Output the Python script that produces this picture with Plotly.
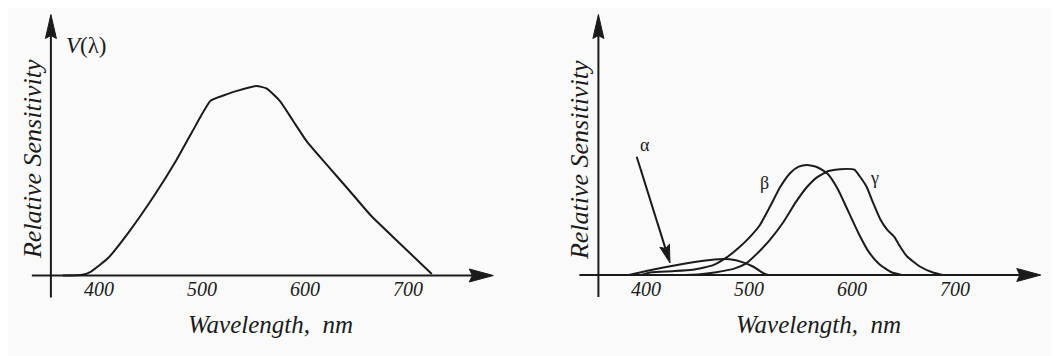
import math
import plotly.graph_objects as go

# ---------------- data ----------------
TICK_VALUES = [400, 500, 600, 700]
TICK_LABELS = ["400", "500", "600", "700"]

# Left panel: photopic luminosity function V(lambda)
V_WL = [365, 384, 392.5, 409, 428.6, 454.8, 474.4, 490.8, 508.7, 521, 533.3,
        553, 562.8, 575.9, 589, 602.1, 621.7, 643, 664.4, 693.8, 723.3]
V_VAL = [0.0, 0.004, 0.021, 0.092, 0.225, 0.43, 0.60, 0.76, 0.923, 0.95, 0.973,
         1.0, 0.987, 0.92, 0.813, 0.706, 0.582, 0.45, 0.315, 0.161, 0.008]

# Right panel: cone sensitivities
ALPHA_WL = [383, 395, 407, 426, 452, 470, 481, 494, 504, 514, 518]
ALPHA_VAL = [0.0, 0.025, 0.05, 0.085, 0.125, 0.143, 0.143, 0.115, 0.075, 0.015, 0.0]

BETA_WL = [395, 405, 425, 445, 465, 478, 490, 500, 510, 520, 530, 540, 548,
           556, 566, 576, 586, 596, 606, 616, 626, 638, 648]
BETA_VAL = [0.0, 0.025, 0.035, 0.048, 0.09, 0.16, 0.25, 0.34, 0.45, 0.62, 0.80,
            0.93, 0.985, 1.0, 0.98, 0.92, 0.78, 0.58, 0.38, 0.21, 0.10, 0.025, 0.0]

GAMMA_WL = [430, 450, 468, 486, 497, 507, 520, 533, 545, 556, 566, 577, 588,
            602, 607, 614, 620, 627, 634, 641, 645, 653, 666, 679, 688]
GAMMA_VAL = [0.0, 0.005, 0.025, 0.06, 0.105, 0.19, 0.32, 0.48, 0.66, 0.80, 0.89,
             0.945, 0.962, 0.958, 0.90, 0.80, 0.66, 0.51, 0.41, 0.345, 0.28,
             0.17, 0.075, 0.02, 0.0]

# ---------------- layout geometry ----------------
WIN_W, WIN_H = 1059, 356
OFF = 8                      # default page margin around the plot div
FW, FH = WIN_W - OFF, WIN_H - OFF
INK = "#1b1b1b"
BG = "#fafafa"
SERIF = "Liberation Serif"
KX = 1.03  # pixels per nm (both panels)
SPLIT = 529.5  # window x where the two panels meet

# geometry measured in window pixels
PANELS = {
    "left": dict(xa="x", ya="y", x550=253.3, base=275.5, ky=189.5, span=(OFF, SPLIT)),
    "right": dict(xa="x2", ya="y2", x550=800.8, base=275.0, ky=110.0, span=(SPLIT, WIN_W)),
}


def to_data(p, px, py):
    return 550 + (px - p["x550"]) / KX, (p["base"] - py) / p["ky"]


def to_px(p, lam, v):
    return p["x550"] + (lam - 550) * KX, p["base"] - v * p["ky"]


def paper_x(px):
    return (px - OFF) / FW


def paper_y(py):
    return 1 - (py - OFF) / FH


def head_path(p, tip_px, direction, length, half_w, notch):
    dx, dy = direction
    n = math.hypot(dx, dy)
    dx, dy = dx / n, dy / n
    nx, ny = -dy, dx
    tx, ty = tip_px
    pts = [(tx, ty),
           (tx - length * dx + half_w * nx, ty - length * dy + half_w * ny),
           (tx - (length - notch) * dx, ty - (length - notch) * dy),
           (tx - length * dx - half_w * nx, ty - length * dy - half_w * ny)]
    d = [to_data(p, *q) for q in pts]
    return "M " + " L ".join(f"{x:.3f},{y:.5f}" for x, y in d) + " Z"


fig = go.Figure()
shapes = []
annotations = []

X_AXIS_START = 335.0   # nm
X_AXIS_TIP = 783.0     # nm
Y_AXIS_AT = 353.5      # nm
Y_AXIS_BELOW_PX = 22
Y_AXIS_TIP_PY = 14.5
HEAD_L, HEAD_W, HEAD_N = 24, 6.5, 3
TICK_LABEL_PY = 288.5

tick_font = dict(family=SERIF, size=20, color=INK, style="italic")

for key, p in PANELS.items():
    xa, ya = p["xa"], p["ya"]
    # x axis line + arrow
    tip = to_px(p, X_AXIS_TIP, 0)
    sx, sy = to_data(p, tip[0] - (HEAD_L - HEAD_N), tip[1])
    shapes.append(dict(type="line", xref=xa, yref=ya, x0=X_AXIS_START, y0=0, x1=sx, y1=0,
                       line=dict(color=INK, width=2)))
    shapes.append(dict(type="path", xref=xa, yref=ya, path=head_path(p, tip, (1, 0), HEAD_L, HEAD_W, HEAD_N),
                       fillcolor=INK, line=dict(color=INK, width=1)))
    # y axis line + arrow
    ax_px, _ = to_px(p, Y_AXIS_AT, 0)
    _, ybot = to_data(p, ax_px, p["base"] + Y_AXIS_BELOW_PX)
    ytip = (ax_px, Y_AXIS_TIP_PY)
    _, yb = to_data(p, ax_px, Y_AXIS_TIP_PY + (HEAD_L - HEAD_N))
    shapes.append(dict(type="line", xref=xa, yref=ya, x0=Y_AXIS_AT, y0=ybot, x1=Y_AXIS_AT, y1=yb,
                       line=dict(color=INK, width=2)))
    shapes.append(dict(type="path", xref=xa, yref=ya, path=head_path(p, ytip, (0, -1), HEAD_L, 5.5, HEAD_N),
                       fillcolor=INK, line=dict(color=INK, width=1)))
    # tick labels
    for tv, tl in zip(TICK_VALUES, TICK_LABELS):
        annotations.append(dict(text=tl, xref=xa, yref="paper", x=tv, y=paper_y(TICK_LABEL_PY),
                                xanchor="center", yanchor="middle", showarrow=False, font=tick_font))

line_style = dict(color=INK, width=2, shape="spline", smoothing=0.5)
fig.add_trace(go.Scatter(x=V_WL, y=V_VAL, mode="lines", line=line_style, xaxis="x", yaxis="y"))
for wl, val in [(ALPHA_WL, ALPHA_VAL), (BETA_WL, BETA_VAL), (GAMMA_WL, GAMMA_VAL)]:
    fig.add_trace(go.Scatter(x=wl, y=val, mode="lines", line=line_style, xaxis="x2", yaxis="y2"))

# alpha pointer arrow
pr = PANELS["right"]
ALPHA_TAIL = (390.7, 1.075)
ALPHA_TIP = (423.0, 0.11)
t0 = to_px(pr, *ALPHA_TAIL)
t1 = to_px(pr, *ALPHA_TIP)
dvec = (t1[0] - t0[0], t1[1] - t0[1])
dn = math.hypot(*dvec)
base_px = (t1[0] - dvec[0] / dn * 15, t1[1] - dvec[1] / dn * 15)
bx, by = to_data(pr, *base_px)
shapes.append(dict(type="line", xref="x2", yref="y2", x0=ALPHA_TAIL[0], y0=ALPHA_TAIL[1], x1=bx, y1=by,
                   line=dict(color=INK, width=2)))
shapes.append(dict(type="path", xref="x2", yref="y2", path=head_path(pr, t1, dvec, 18, 5, 3),
                   fillcolor=INK, line=dict(color=INK, width=1)))

ylab_font = dict(family=SERIF, size=26, color=INK, style="italic")
xlab_font = dict(family=SERIF, size=25, color=INK, style="italic")
for key, xc, yc in [("left", 32.7, 159.4), ("right", 578.9, 160.2)]:
    annotations.append(dict(text="Relative Sensitivity", xref="paper", yref="paper", x=paper_x(xc), y=paper_y(yc),
                            textangle=-90, showarrow=False, font=ylab_font, xanchor="center", yanchor="middle"))
for key, xc in [("left", 270.7), ("right", 818.5)]:
    annotations.append(dict(text="Wavelength,\u00a0\u00a0nm", xref="paper", yref="paper", x=paper_x(xc),
                            y=paper_y(324), showarrow=False, font=xlab_font, xanchor="center", yanchor="middle"))

annotations.append(dict(text="<i>V</i>(λ)", xref="x", yref="y", x=366.2, y=1.214, xanchor="left",
                        yanchor="middle", showarrow=False, font=dict(family=SERIF, size=23, color=INK)))
greek = dict(family=SERIF, size=18, color=INK)
annotations.append(dict(text="α", xref="x2", yref="y2", x=398.7, y=1.18, showarrow=False, font=greek))
annotations.append(dict(text="β", xref="x2", yref="y2", x=515.2, y=0.834, showarrow=False, font=greek))
annotations.append(dict(text="γ", xref="x2", yref="y2", x=622.0, y=0.88, showarrow=False, font=greek))

layout_axes = {}
for i, (key, p) in enumerate(PANELS.items()):
    a, b = p["span"]
    xl, _ = to_data(p, a, 0)
    xr, _ = to_data(p, b, 0)
    _, ytop = to_data(p, 0, OFF)
    _, ybot = to_data(p, 0, WIN_H)
    sfx = "" if i == 0 else "2"
    layout_axes["xaxis" + sfx] = dict(domain=[paper_x(a), paper_x(b)], range=[xl, xr], visible=False,
                                      fixedrange=True, anchor="y" + sfx)
    layout_axes["yaxis" + sfx] = dict(domain=[0, 1], range=[ybot, ytop], visible=False, fixedrange=True,
                                      anchor="x" + sfx)

fig.update_layout(width=FW, height=FH, margin=dict(l=0, r=0, t=0, b=0), autosize=False,
                  paper_bgcolor=BG, plot_bgcolor=BG, showlegend=False,
                  font=dict(family=SERIF, color=INK),
                  shapes=shapes, annotations=annotations, **layout_axes)
fig.write_html("out.html")
